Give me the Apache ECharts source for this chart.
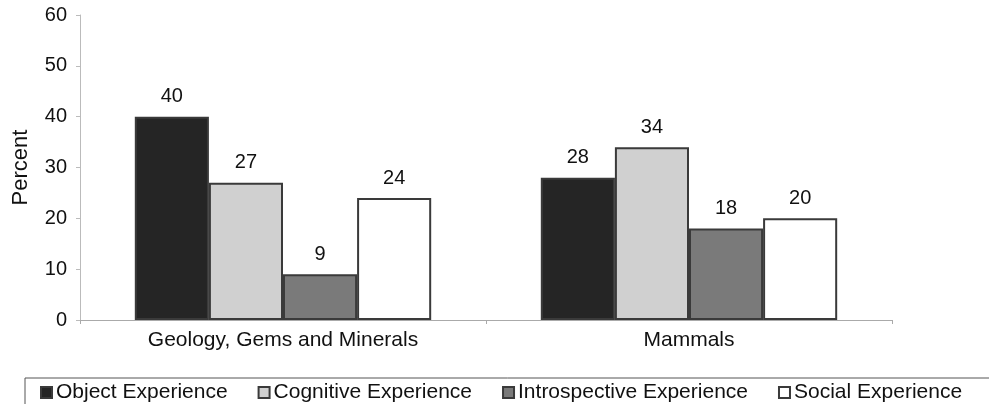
<!DOCTYPE html>
<html>
<head>
<meta charset="utf-8">
<script src="https://cdn.jsdelivr.net/npm/echarts@6/dist/echarts.min.js"></script>
<style>
  html, body { margin: 0; padding: 0; background: #fff; }
  #chart { width: 989px; height: 404px; }
</style>
</head>
<body>
<div id="chart"></div>
<script>
// Exhibit categories and the share of each experience type (percent)
const categories = ['Geology, Gems and Minerals', 'Mammals'];
const objectExperience = [40, 28];
const cognitiveExperience = [27, 34];
const introspectiveExperience = [9, 18];
const socialExperience = [24, 20];
const yTicks = [0, 10, 20, 30, 40, 50, 60];

const seriesDefs = [
  { name: 'Object Experience', data: objectExperience, color: '#252525' },
  { name: 'Cognitive Experience', data: cognitiveExperience, color: '#d0d0d0' },
  { name: 'Introspective Experience', data: introspectiveExperience, color: '#7a7a7a' },
  { name: 'Social Experience', data: socialExperience, color: '#ffffff' }
];

const FONT = 'Liberation Sans, Arial, sans-serif';

const chart = echarts.init(document.getElementById('chart'), null, { renderer: 'canvas' });

chart.setOption({
  backgroundColor: '#fff',
  animation: false,
  textStyle: { fontFamily: FONT, color: '#111' },
  grid: { left: 80, right: 97, top: 15, bottom: 84, containLabel: false },
  legend: {
    left: 25,
    top: 378,
    width: 1200,
    itemGap: 30,
    itemWidth: 11,
    itemHeight: 11,
    padding: [4, 30, 12, 15],
    borderColor: '#555',
    borderWidth: 1,
    icon: 'rect',
    textStyle: { fontFamily: FONT, fontSize: 21, color: '#111', padding: [0, 0, 0, -1] },
    data: seriesDefs.map(s => s.name)
  },
  xAxis: {
    type: 'category',
    data: categories,
    axisLine: { lineStyle: { color: '#aaa', width: 1 } },
    axisTick: { show: true, length: 4, lineStyle: { color: '#aaa' } },
    axisLabel: { fontFamily: FONT, fontSize: 21, color: '#111', margin: 10 }
  },
  yAxis: {
    type: 'value',
    min: yTicks[0],
    max: yTicks[yTicks.length - 1],
    interval: 10,
    name: 'Percent',
    nameLocation: 'middle',
    nameGap: 48,
    nameTextStyle: { fontFamily: FONT, fontSize: 22, color: '#111' },
    axisLine: { show: true, lineStyle: { color: '#bbb', width: 1 } },
    axisTick: { show: true, length: 4, lineStyle: { color: '#bbb' } },
    splitLine: { show: false },
    axisLabel: { fontFamily: FONT, fontSize: 20, color: '#111', margin: 13 }
  },
  series: seriesDefs.map(s => ({
    name: s.name,
    type: 'bar',
    data: s.data,
    barGap: '0%',
    barCategoryGap: '27%',
    itemStyle: { color: s.color, borderColor: '#3a3a3a', borderWidth: 2 },
    label: {
      show: true,
      position: 'top',
      distance: 10,
      fontFamily: FONT,
      fontSize: 20,
      color: '#111'
    }
  }))
});
</script>
</body>
</html>
